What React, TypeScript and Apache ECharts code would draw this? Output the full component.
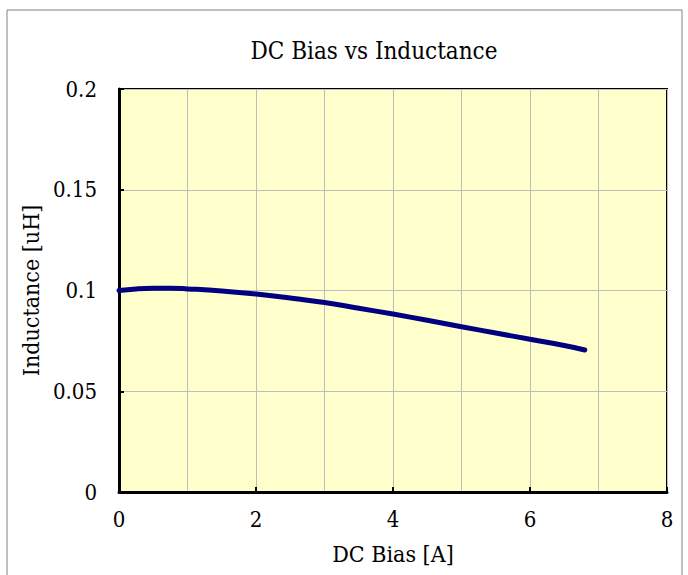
import React, { useEffect, useRef } from "react";
import * as echarts from "echarts";

const title = "DC Bias vs Inductance";
const xName = "DC Bias [A]";
const yName = "Inductance [uH]";
const biasA = [0, 0.25, 0.5, 0.75, 1, 1.5, 2, 2.5, 3, 3.5, 4, 4.5, 5, 5.5, 6, 6.5, 6.8];
const inductanceUH = [0.1, 0.1008, 0.1011, 0.1011, 0.1008, 0.0998, 0.0983, 0.0963, 0.094, 0.0912, 0.0883, 0.0852, 0.082, 0.0789, 0.0758, 0.0727, 0.0705];

export default function App() {
  const ref = useRef<HTMLDivElement>(null);
  useEffect(() => {
    const chart = echarts.init(ref.current!, undefined, { renderer: "svg" });
    const font = "DejaVu Serif Condensed, DejaVu Serif";
    chart.setOption({
      animation: false,
      backgroundColor: "#ffffff",
      graphic: [
        {
          type: "rect",
          shape: { x: 7, y: 10, width: 675, height: 600 },
          style: { fill: "none", stroke: "#808080", lineWidth: 1 },
          silent: true,
        },
        {
          type: "text",
          x: 374,
          y: 51,
          silent: true,
          style: {
            text: title,
            fontFamily: font,
            fontSize: 24,
            fill: "#000",
            textAlign: "center",
            textVerticalAlign: "middle",
          },
        },
      ],
      grid: {
        left: 119,
        top: 89,
        right: 21,
        bottom: 83,
        show: true,
        backgroundColor: "#FFFFCC",
        borderColor: "#000",
        borderWidth: 2,
      },
      xAxis: {
        type: "value",
        min: 0,
        max: 8,
        interval: 2,
        name: xName,
        nameLocation: "middle",
        nameGap: 50,
        nameTextStyle: { fontFamily: font, fontSize: 23, color: "#000" },
        axisLine: { show: true, onZero: false, lineStyle: { color: "#000", width: 3 } },
        axisTick: { show: true, inside: true, length: 5, lineStyle: { color: "#000", width: 2 } },
        axisLabel: { fontFamily: font, fontSize: 22, color: "#000", margin: 16 },
        splitLine: { show: true, lineStyle: { color: "#BDBDBD", width: 1 } },
        minorTick: { show: false, splitNumber: 2 },
        minorSplitLine: { show: true, lineStyle: { color: "#BDBDBD", width: 1 } },
      },
      yAxis: {
        type: "value",
        min: 0,
        max: 0.2,
        interval: 0.05,
        name: yName,
        nameLocation: "middle",
        nameGap: 74,
        nameTextStyle: { fontFamily: font, fontSize: 23, color: "#000" },
        axisLine: { show: true, onZero: false, lineStyle: { color: "#000", width: 3 } },
        axisTick: { show: true, inside: true, length: 5, lineStyle: { color: "#000", width: 2 } },
        axisLabel: { fontFamily: font, fontSize: 22, color: "#000", margin: 22 },
        splitLine: { show: true, lineStyle: { color: "#BDBDBD", width: 1 } },
      },
      series: [
        {
          type: "line",
          data: biasA.map((x, i) => [x, inductanceUH[i]]),
          smooth: true,
          showSymbol: false,
          lineStyle: { color: "#000080", width: 5, cap: "round" },
        },
      ],
    });
    return () => chart.dispose();
  }, []);
  return <div ref={ref} style={{ position: "fixed", left: 0, top: 0, width: 688, height: 575 }} />;
}
